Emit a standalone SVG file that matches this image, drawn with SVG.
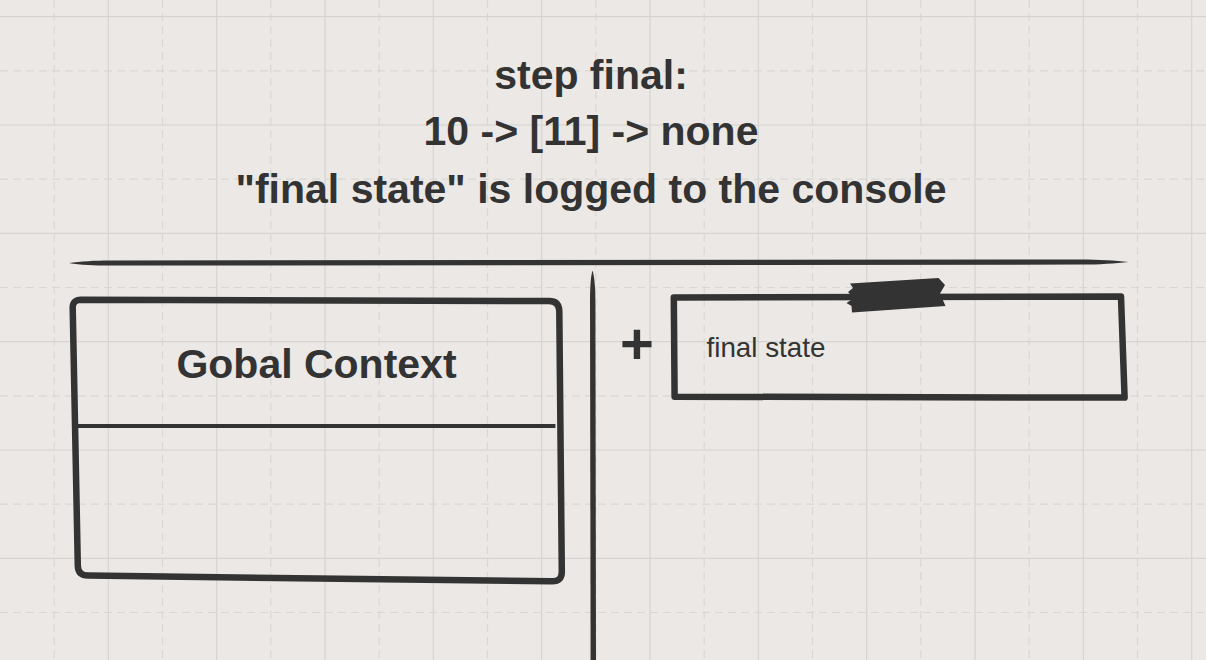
<svg xmlns="http://www.w3.org/2000/svg" width="1206" height="660" viewBox="0 0 1206 660">
<style>
.bg{fill:#ebe8e5}
.gs{stroke:#d6d4d1;stroke-width:1.2;fill:none}
.gd{stroke:#d9d7d4;stroke-width:1.2;fill:none;stroke-dasharray:8 5}
.ink{fill:#333333}
.box{fill:none;stroke:#333333;stroke-width:6.5;stroke-linejoin:round}
.title{font-family:"Liberation Sans",Arial,sans-serif;font-weight:bold;font-size:41px;fill:#333333;text-anchor:middle}
.lbl{font-family:"Liberation Sans",Arial,sans-serif;font-size:27.8px;fill:#333333}
</style>
<rect class="bg" x="0" y="0" width="1206" height="660"/>
<g id="grid">
<path class="gs" d="M108.3,0V660M216.7,0V660M325,0V660M433.3,0V660M541.7,0V660M650,0V660M758.3,0V660M866.7,0V660M975,0V660M1083.3,0V660M1191.7,0V660"/>
<path class="gd" d="M54.2,0V660M162.5,0V660M270.8,0V660M379.2,0V660M487.5,0V660M595.8,0V660M704.2,0V660M812.5,0V660M920.8,0V660M1029.2,0V660M1137.5,0V660"/>
<path class="gs" d="M0,16.7H1206M0,125H1206M0,233.3H1206M0,341.7H1206M0,450H1206M0,558.3H1206"/>
<path class="gd" d="M0,70.8H1206M0,179.2H1206M0,287.5H1206M0,395.8H1206M0,504.2H1206M0,612.5H1206"/>
</g>
<g id="title">
<text class="title" x="591" y="89">step final:</text>
<text class="title" x="591" y="145">10 -&gt; [11] -&gt; none</text>
<text class="title" x="591" y="203">"final state" is logged to the console</text>
</g>
<g id="connectors">
<path class="ink" d="M69,263 C80,261.2 95,260.4 110,260.4 L1080,259.4 C1100,259.5 1115,260.4 1128.5,262 C1115,263.6 1100,264.5 1080,264.6 L110,265.6 C95,265.6 80,264.9 69,263 Z"/>
<path class="ink" d="M592.5,270.5 C594,275 595.3,285 595.4,300 L596,660 L590.6,660 L590,300 C590.1,285 591,275 592.5,270.5 Z"/>
</g>
<g id="global-context">
<path class="box" d="M81,299.8 L549,301 Q559,301 559.3,311 L561.8,571.5 Q562,581.5 552,581.3 L88,575.6 Q78,575.5 77.8,565.5 L72.7,307.8 Q72.6,299.8 81,299.8 Z"/>
<path d="M77.9,426 L555.4,426" stroke="#333333" stroke-width="4" fill="none"/>
<text class="title" x="316.5" y="378">Gobal Context</text>
</g>
<g id="plus">
<text x="637" y="364" style="font-family:'Liberation Sans',Arial,sans-serif;font-weight:bold;font-size:58px;fill:#333333;text-anchor:middle">+</text>
</g>
<g id="final-state">
<path class="box" stroke-linejoin="miter" d="M673.8,297.5 L1121,296.6 L1124.6,397.6 L674.6,396.7 Z"/>
<polygon class="ink" points="850,283.5 938.5,278 945,285 940,293.5 945.5,306 852,312.5 851.5,306 846.5,303 854,298 848,292 853,288"/>
<text class="lbl" x="706.5" y="357">final state</text>
</g>
</svg>
